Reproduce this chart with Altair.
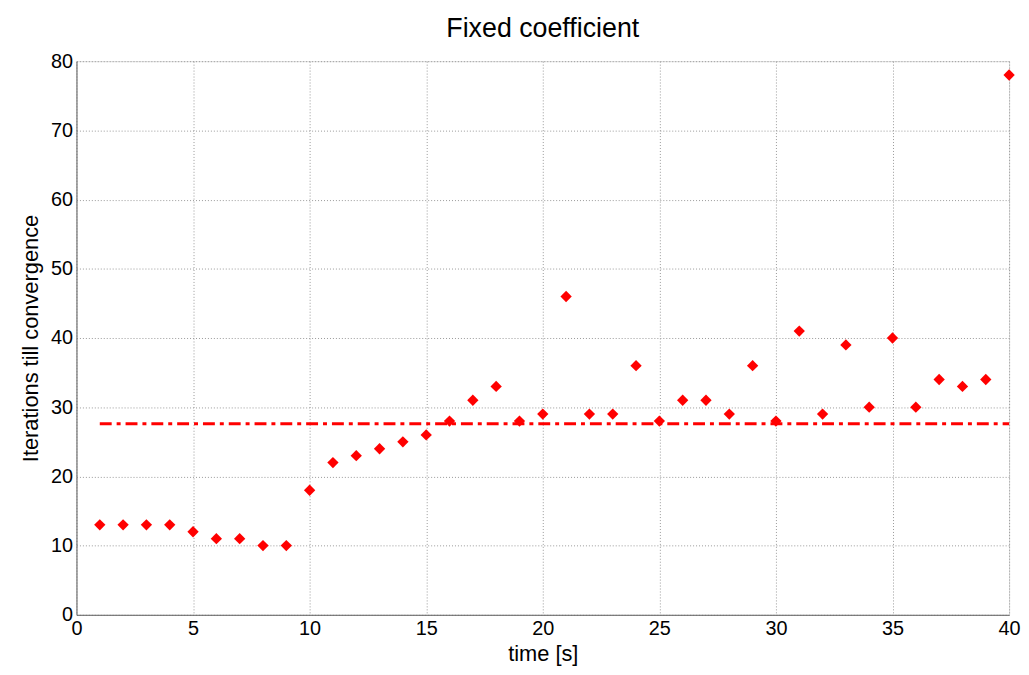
import altair as alt
import pandas as pd

time_s = list(range(1, 41))
iterations = [13, 13, 13, 13, 12, 11, 11, 10, 10, 18,
              22, 23, 24, 25, 26, 28, 31, 33, 28, 29,
              46, 29, 29, 36, 28, 31, 31, 29, 36, 28,
              41, 29, 39, 30, 40, 30, 34, 33, 34, 78]
mean_level = [27.6]
line_x = [1, 40]

df = pd.DataFrame({"t": time_s, "it": iterations})
mean_df = pd.DataFrame({"t": line_x, "it": mean_level * len(line_x)})

FONT = "Liberation Sans"

xs = alt.Scale(domain=[0, 40], nice=False, zero=False)
ys = alt.Scale(domain=[0, 80], nice=False)

xaxis = alt.Axis(values=list(range(0, 41, 5)), title="time [s]", grid=True,
                 gridDash=[1, 2], gridColor="#999", tickSize=0, labelPadding=4,
                 labelFlush=False,
                 labelFontSize=20, titleFontSize=22, titleFontWeight="normal",
                 labelFont=FONT, titleFont=FONT, titlePadding=5,
                 domainColor="#666", labelColor="#000", titleColor="#000")
yaxis = alt.Axis(values=list(range(0, 81, 10)), title="Iterations till convergence", grid=True,
                 gridDash=[1, 2], gridColor="#999", tickSize=0, labelPadding=4,
                 labelFontSize=20, titleFontSize=22, titleFontWeight="normal",
                 labelFont=FONT, titleFont=FONT, titlePadding=8,
                 domainColor="#666", labelColor="#000", titleColor="#000")

pts = alt.Chart(df).mark_point(shape="diamond", filled=True, color="#ff0000",
                               size=130, opacity=1).encode(
    x=alt.X("t:Q", scale=xs, axis=xaxis),
    y=alt.Y("it:Q", scale=ys, axis=yaxis),
)

mean_line = alt.Chart(mean_df).mark_line(color="#ff0000", strokeWidth=3,
                                         strokeDash=[12, 5, 4, 5]).encode(
    x=alt.X("t:Q", scale=xs),
    y=alt.Y("it:Q", scale=ys),
)

chart = alt.layer(mean_line, pts).properties(
    width=940, height=558,
    title=alt.TitleParams("Fixed coefficient", fontSize=27, font=FONT,
                          fontWeight="normal", color="#000", offset=8),
    padding={"left": 11, "top": 5, "right": 0, "bottom": 0},
).configure_view(stroke="#666", strokeWidth=1).configure(background="white")

chart.save("out.html", embed_options={"renderer": "svg", "actions": False})
